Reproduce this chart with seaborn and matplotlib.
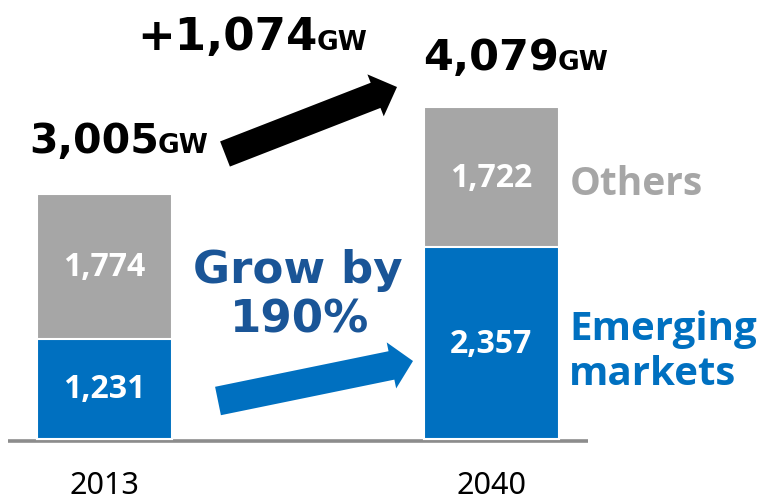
import matplotlib
matplotlib.use("Agg")
import matplotlib.pyplot as plt
import seaborn as sns
import pandas as pd
from matplotlib.patches import FancyArrow

# values (GW)
years = ["2013", "2040"]
emerging = [1231, 2357]
others = [1774, 1722]
totals = [e + o for e, o in zip(emerging, others)]
increase = totals[1] - totals[0]

BLUE = "#0070C0"
GREY = "#A6A6A6"
DARK_BLUE = "#1A5597"

sns.set_theme(style="white")
plt.rcParams["font.family"] = ["DejaVu Sans"]

df = pd.DataFrame({"year": years, "emerging": emerging, "others": others, "total": totals})

fig = plt.figure(figsize=(7.61, 5.02), dpi=100)
ax = fig.add_axes([8 / 761, 57 / 502, 580 / 761, 445 / 502])

# stacked bars: totals in grey, emerging markets in blue on top of them
sns.barplot(data=df, x="year", y="total", color=GREY, width=0.35, saturation=1,
            edgecolor="white", linewidth=1.5, errorbar=None, ax=ax)
sns.barplot(data=df, x="year", y="emerging", color=BLUE, width=0.35, saturation=1,
            edgecolor="white", linewidth=1.5, errorbar=None, ax=ax)

ax.set_xlim(-0.25, 1.25)
ax.set_ylim(-62, 5405)
ax.axhline(-30, color="#8C8C8C", lw=2.6, zorder=0.5)
sns.despine(ax=ax, left=True, bottom=True)
ax.set_yticks([])
ax.set_xlabel("")
ax.set_ylabel("")
ax.tick_params(axis="x", length=0, pad=19, labelsize=22, labelcolor="black")
for lab in ax.get_xticklabels():
    lab.set_family("Noto Sans")

# segment values
for i in range(len(years)):
    ax.text(i, emerging[i] / 2, f"{emerging[i]:,}", ha="center", va="center",
            color="white", fontsize=23, fontweight="bold", family="Open Sans")
    ax.text(i, emerging[i] + others[i] / 2, f"{others[i]:,}", ha="center", va="center",
            color="white", fontsize=23, fontweight="bold", family="Open Sans")

# overlay in pixel units for the annotations
ov = fig.add_axes([0, 0, 1, 1], zorder=5)
ov.set_xlim(0, 761)
ov.set_ylim(502, 0)
ov.axis("off")
ov.patch.set_alpha(0)


def gw_label(x_split, y_base, text, size):
    ov.text(x_split, y_base, text, ha="right", va="baseline", fontsize=size,
            fontweight="bold", color="black")
    ov.text(x_split - 1, y_base, "GW", ha="left", va="baseline", fontsize=19,
            fontweight="bold", color="black")


gw_label(159, 153, f"{totals[0]:,}", 29.5)
gw_label(318, 50, f"+{increase:,}", 32.5)
gw_label(559, 70, f"{totals[1]:,}", 31)

ov.add_patch(FancyArrow(225, 155, 172, -67, width=27, head_width=45, head_length=23,
                        length_includes_head=True, color="black", lw=0))
ov.add_patch(FancyArrow(218, 402, 195, -40, width=29, head_width=47, head_length=22,
                        length_includes_head=True, color=BLUE, lw=0))

ov.text(298, 283, "Grow by", ha="center", va="baseline", fontsize=32.5,
        fontweight="bold", color=DARK_BLUE)
ov.text(300, 333, "190%", ha="center", va="baseline", fontsize=32.5,
        fontweight="bold", color=DARK_BLUE)

ov.text(570, 195, "Others", ha="left", va="baseline", fontsize=28,
        fontweight="bold", color=GREY, family="Open Sans")
ov.text(569, 340, "Emerging", ha="left", va="baseline", fontsize=29,
        fontweight="bold", color=BLUE, family="Open Sans")
ov.text(569, 385, "markets", ha="left", va="baseline", fontsize=29,
        fontweight="bold", color=BLUE, family="Open Sans")

fig.savefig("out.png", dpi=100)
